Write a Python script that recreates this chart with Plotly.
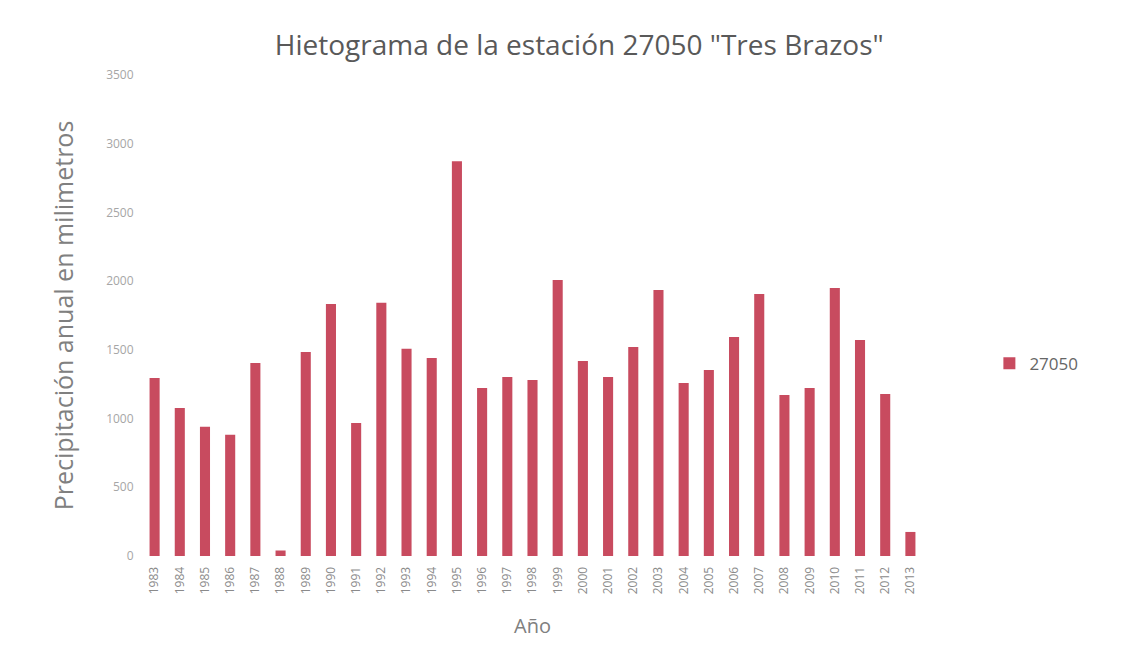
import plotly.graph_objects as go

years = [str(y) for y in range(1983, 2014)]
precip = [1296, 1077, 940, 882, 1405, 40, 1485, 1834, 968, 1842, 1508, 1441,
          2873, 1223, 1303, 1281, 2009, 1419, 1303, 1521, 1936, 1259, 1354,
          1594, 1907, 1172, 1223, 1951, 1572, 1179, 175]
series_name = "27050"
y_ticks = [0, 500, 1000, 1500, 2000, 2500, 3000, 3500]

FONT = "'Open Sans', Lato, sans-serif"
GRAY = "#808080"

fig = go.Figure(go.Bar(
    x=years, y=precip, name=series_name,
    marker=dict(color="#C84B5F", line=dict(width=0)),
    showlegend=True,
))

fig.update_layout(
    width=1129, height=657,
    paper_bgcolor="white", plot_bgcolor="white",
    margin=dict(l=134, r=214, t=67, b=109),
    bargap=0.6,
    title=dict(text='Hietograma de la estación 27050 "Tres Brazos"',
               x=0.506, xanchor="center", y=0.944, yanchor="middle",
               font=dict(family=FONT, size=28, color="#595959")),
    font=dict(family=FONT, color=GRAY),
    legend=dict(x=1.085, y=0.40, xanchor="left", yanchor="middle",
                font=dict(family=FONT, size=17, color="#666666"),
                bgcolor="rgba(0,0,0,0)", itemwidth=30),
    xaxis=dict(type="category", tickangle=-90, showgrid=False,
               showline=False, ticks="outside", ticklen=5, tickcolor="white",
               tickfont=dict(family=FONT, size=12, color="#8a8a8a"),
               title=dict(text="Año", font=dict(family=FONT, size=20, color=GRAY),
                          standoff=25)),
    yaxis=dict(range=[0, 3500], tickvals=y_ticks, showgrid=False,
               showline=False, zeroline=False, ticks="outside", ticklen=5,
               tickcolor="white",
               tickfont=dict(family=FONT, size=12, color="#a6a6a6"),
               title=dict(text="Precipitación anual en milimetros",
                          font=dict(family=FONT, size=25, color=GRAY),
                          standoff=25)),
)

fig.write_html("out.html")
